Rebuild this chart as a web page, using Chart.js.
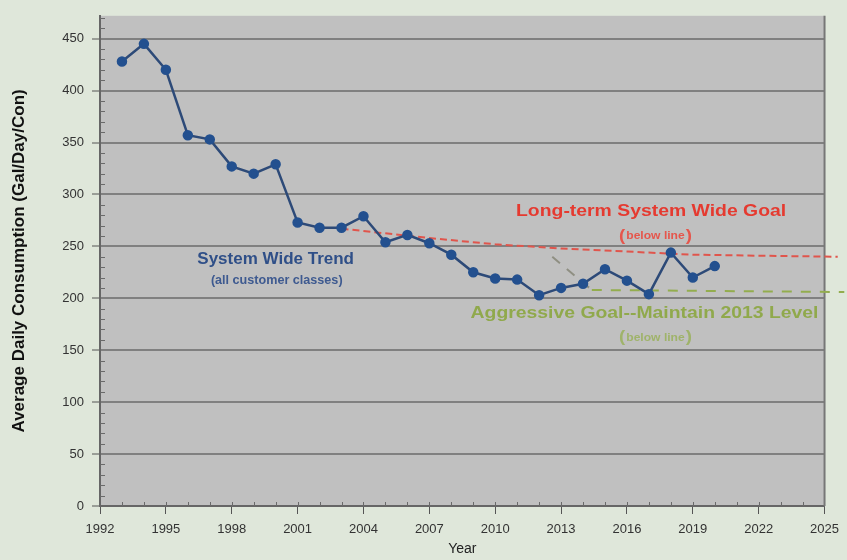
<!DOCTYPE html>
<html>
<head>
<meta charset="utf-8">
<script src="https://cdn.jsdelivr.net/npm/chart.js@4.4.1/dist/chart.umd.min.js"></script>
<style>
  html, body { margin: 0; padding: 0; background: #dfe7da; }
  #wrap { width: 847px; height: 560px; }
</style>
</head>
<body>
<div id="wrap"><canvas id="chart"></canvas></div>
<script>
"use strict";

// system wide trend
const years = [1993, 1994, 1995, 1996, 1997, 1998, 1999, 2000, 2001, 2002,
  2003, 2004, 2005, 2006, 2007, 2008, 2009, 2010, 2011, 2012,
  2013, 2014, 2015, 2016, 2017, 2018, 2019, 2020];
const consumption = [428, 445, 420, 357, 353, 327, 320, 329, 273, 268,
  268, 279, 254, 261, 253, 242, 225, 219, 218, 203,
  210, 214, 228, 217, 204, 244, 220, 231];

// long-term goal (red dashed)
const longTermYears = [2003, 2007, 2010, 2013, 2016, 2019, 2022, 2025.6];
const longTermGoal = [267, 258, 252, 248, 245, 242, 241, 240];

// aggressive goal (green dashed)
const aggressiveYears = [2012.6, 2014.4, 2025.9];
const aggressiveGoal = [240, 208, 206];

const yearTicks = [1992, 1995, 1998, 2001, 2004, 2007, 2010, 2013, 2016, 2019, 2022, 2025];
const valueTicks = [0, 50, 100, 150, 200, 250, 300, 350, 400, 450];

const FONT = "'Liberation Sans', Arial, sans-serif";

const toPoints = (xs, ys) => xs.map((x, i) => ({ x: x, y: ys[i] }));

const plotBackground = {
  id: 'plotBackground',
  beforeDraw(chart) {
    const { ctx, chartArea: a } = chart;
    ctx.save();
    ctx.fillStyle = '#c0c0c0';
    ctx.fillRect(a.left, a.top, a.right - a.left, a.bottom - a.top);
    ctx.restore();
  },
  beforeDatasetsDraw(chart) {
    const { ctx, chartArea: a, scales } = chart;
    ctx.save();
    ctx.strokeStyle = '#6a6a6a';
    ctx.lineWidth = 1;
    // minor ticks inside the plot
    for (let v = 10; v < scales.y.max; v += 10) {
      if (v % 50 === 0) continue;
      const y = Math.round(scales.y.getPixelForValue(v)) + 0.5;
      ctx.beginPath();
      ctx.moveTo(a.left, y);
      ctx.lineTo(a.left + 5, y);
      ctx.stroke();
    }
    for (let yr = 1993; yr < 2025; yr++) {
      const x = Math.round(scales.x.getPixelForValue(yr)) + 0.5;
      ctx.beginPath();
      ctx.moveTo(x, a.bottom);
      ctx.lineTo(x, a.bottom - 4);
      ctx.stroke();
    }
    // right edge
    ctx.strokeStyle = '#777';
    ctx.lineWidth = 2;
    ctx.beginPath();
    ctx.moveTo(a.right, a.top);
    ctx.lineTo(a.right, a.bottom);
    ctx.stroke();
    ctx.restore();
  }
};

const notes = [
  { text: 'System Wide Trend', x: 2000.0, y: 238, size: 17, stretch: 1, color: '#2f4f88' },
  { text: '(all customer classes)', x: 2000.05, y: 217, size: 12, stretch: 1.05, color: '#3e5a90' },
  { text: 'Long-term System Wide Goal', x: 2017.1, y: 284, size: 17, stretch: 1.14, color: '#e53a30' },
  { text: 'below line', x: 2017.3, y: 260, size: 11, stretch: 1.1, paren: true, color: '#e5564c' },
  { text: 'Aggressive Goal--Maintain 2013 Level', x: 2016.8, y: 186, size: 17, stretch: 1.14, color: '#90a94c' },
  { text: 'below line', x: 2017.3, y: 162, size: 11, stretch: 1.1, paren: true, color: '#9fb36a' }
];

const annotations = {
  id: 'annotations',
  afterDatasetsDraw(chart) {
    const { ctx, scales } = chart;
    notes.forEach(n => {
      const cx = scales.x.getPixelForValue(n.x);
      const cy = scales.y.getPixelForValue(n.y);
      ctx.save();
      ctx.translate(cx, cy);
      ctx.scale(n.stretch, 1);
      ctx.textBaseline = 'middle';
      ctx.fillStyle = n.color;
      ctx.font = 'bold ' + n.size + 'px ' + FONT;
      if (n.paren) {
        const inner = ctx.measureText(n.text).width;
        ctx.textAlign = 'center';
        ctx.fillText(n.text, 0, 0);
        ctx.font = 'bold 17px ' + FONT;
        ctx.textAlign = 'right';
        ctx.fillText('(', -inner / 2 - 1, 0);
        ctx.textAlign = 'left';
        ctx.fillText(')', inner / 2 + 1, 0);
      } else {
        ctx.textAlign = 'center';
        ctx.fillText(n.text, 0, 0);
      }
      ctx.restore();
    });
  }
};

new Chart(document.getElementById('chart'), {
  type: 'line',
  data: {
    datasets: [
      {
        label: 'System Wide Trend',
        data: toPoints(years, consumption),
        borderColor: '#2d4a78',
        borderWidth: 2.5,
        pointRadius: 4,
        pointBackgroundColor: '#23508f',
        pointBorderColor: '#23508f',
        tension: 0,
        order: 0
      },
      {
        label: 'Long-term System Wide Goal',
        data: toPoints(longTermYears, longTermGoal),
        borderColor: '#e0554c',
        borderWidth: 2,
        borderDash: [7, 4],
        pointRadius: 0,
        clip: false,
        order: 1
      },
      {
        label: 'Aggressive Goal',
        data: toPoints(aggressiveYears, aggressiveGoal),
        borderColor: '#93ad4e',
        borderWidth: 2,
        borderDash: [10, 9],
        pointRadius: 0,
        clip: false,
        segment: {
          borderColor: ctx => ctx.p0DataIndex === 0 ? '#8f8f82' : undefined
        },
        order: 1
      }
    ]
  },
  options: {
    responsive: true,
    maintainAspectRatio: false,
    animation: false,
    layout: { padding: { top: 15, right: 21, left: 0, bottom: 0 } },
    plugins: {
      legend: { display: false },
      tooltip: { enabled: false }
    },
    scales: {
      x: {
        type: 'linear',
        min: 1992,
        max: 2025,
        afterBuildTicks: scale => { scale.ticks = yearTicks.map(v => ({ value: v })); },
        afterFit: scale => { scale.height = 54; },
        ticks: {
          callback: v => String(v),
          color: '#333',
          font: { family: FONT, size: 13 },
          padding: 8,
          maxRotation: 0,
          autoSkip: false
        },
        grid: { drawOnChartArea: false, tickLength: 8, color: '#555', lineWidth: 1 },
        border: { color: '#666', width: 2 },
        title: {
          display: true,
          text: 'Year',
          color: '#222',
          font: { family: FONT, size: 14 },
          padding: { top: 0, bottom: 2 }
        }
      },
      y: {
        min: 0,
        max: 472,
        afterBuildTicks: scale => { scale.ticks = valueTicks.map(v => ({ value: v })); },
        afterFit: scale => { scale.width = 100; },
        ticks: {
          color: '#333',
          font: { family: FONT, size: 13 },
          padding: 8
        },
        grid: { color: '#808080', lineWidth: 2, tickLength: 8, tickColor: '#555', tickWidth: 1 },
        border: { color: '#666', width: 2 },
        title: {
          display: true,
          text: 'Average Daily Consumption (Gal/Day/Con)',
          color: '#111',
          font: { family: FONT, size: 17, weight: 'bold' },
          padding: { top: 9, bottom: 0 }
        }
      }
    }
  },
  plugins: [plotBackground, annotations]
});
</script>
</body>
</html>
